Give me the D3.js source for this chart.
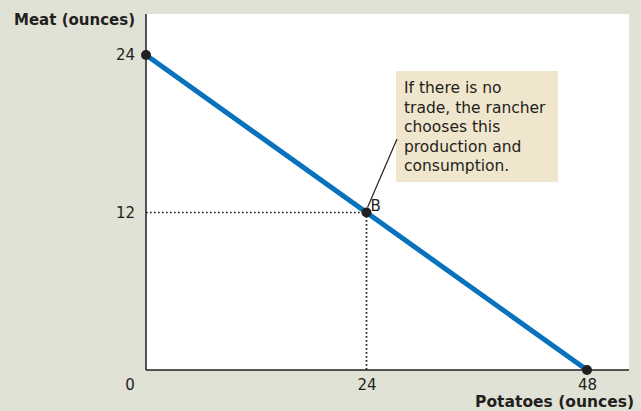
<!DOCTYPE html>
<html>
<head>
<meta charset="utf-8">
<script src="https://cdn.jsdelivr.net/npm/d3@7"></script>
<style>
  body { margin: 0; background: #dfe2d4; }
  svg { display: block; }
  text { font-family: "DejaVu Sans", Verdana, sans-serif; fill: #231f20; }
</style>
</head>
<body>
<div id="chart"></div>
<script>
// Data
const frontier = [
	{ potatoes: 0, meat: 24 },
	{ potatoes: 48, meat: 0 },
];
const pointB = { potatoes: 24, meat: 12, label: 'B' };
const xTicks = [24, 48];
const yTicks = [12, 24];
const noteLines = ['If there is no', 'trade, the rancher', 'chooses this', 'production and', 'consumption.'];

const width = 641;
const height = 411;
const font = '"DejaVu Sans", Verdana, sans-serif';

const x = d3.scaleLinear().domain([0, 48]).range([146, 587]);
const y = d3.scaleLinear().domain([0, 24]).range([370, 55]);

const svg = d3.select('#chart').append('svg').attr('width', width).attr('height', height);

// white plot area
svg.append('rect').attr('x', 146).attr('y', 14).attr('width', 483).attr('height', 356).attr('fill', '#fff');

// dotted guides to B
svg
	.append('path')
	.attr('d', `M${x(0)},${y(pointB.meat)}H${x(pointB.potatoes)}V${y(0)}`)
	.attr('fill', 'none')
	.attr('stroke', '#231f20')
	.attr('stroke-width', 1.7)
	.attr('stroke-dasharray', '1.7,2.3');

// axes
const xAxis = svg
	.append('g')
	.attr('transform', `translate(0,${y(0)})`)
	.call(d3.axisBottom(x).tickValues(xTicks).tickSize(0).tickPadding(9));
xAxis.select('.domain').attr('d', `M${x(0)},0H629`).attr('stroke', '#231f20').attr('stroke-width', 1.5);

const yAxis = svg
	.append('g')
	.attr('transform', `translate(${x(0)},0)`)
	.call(d3.axisLeft(y).tickValues(yTicks).tickSize(0).tickPadding(11));
yAxis.select('.domain').attr('d', `M0,14V${y(0)}`).attr('stroke', '#231f20').attr('stroke-width', 1.5);

svg.selectAll('.tick text').attr('font-size', 15).attr('font-family', font).attr('fill', '#231f20');

svg.append('text').attr('x', 130).attr('y', 390).attr('text-anchor', 'middle').attr('font-size', 15).text('0');

// axis titles
svg
	.append('text')
	.attr('x', 135)
	.attr('y', 25)
	.attr('text-anchor', 'end')
	.attr('font-size', 15)
	.attr('font-weight', 'bold')
	.text('Meat (ounces)');

svg
	.append('text')
	.attr('x', 634)
	.attr('y', 407)
	.attr('text-anchor', 'end')
	.attr('font-size', 15.5)
	.attr('font-weight', 'bold')
	.text('Potatoes (ounces)');

// frontier line
const line = d3
	.line()
	.x((d) => x(d.potatoes))
	.y((d) => y(d.meat));

svg.append('path').datum(frontier).attr('d', line).attr('fill', 'none').attr('stroke', '#0a72bd').attr('stroke-width', 5);

// end points and B
svg
	.selectAll('circle.pt')
	.data(frontier.concat([pointB]))
	.enter()
	.append('circle')
	.attr('class', 'pt')
	.attr('cx', (d) => x(d.potatoes))
	.attr('cy', (d) => y(d.meat))
	.attr('r', 5)
	.attr('fill', '#231f20');

svg
	.append('text')
	.attr('x', x(pointB.potatoes) + 4)
	.attr('y', y(pointB.meat) - 2)
	.attr('font-size', 15)
	.text(pointB.label);

// annotation box
svg.append('rect').attr('x', 396).attr('y', 71).attr('width', 162).attr('height', 111).attr('fill', '#f0e6cd');

svg
	.append('line')
	.attr('x1', 397)
	.attr('y1', 139)
	.attr('x2', x(pointB.potatoes) + 1)
	.attr('y2', y(pointB.meat) - 5)
	.attr('stroke', '#231f20')
	.attr('stroke-width', 1.2);

svg
	.append('text')
	.attr('font-size', 15.5)
	.selectAll('tspan')
	.data(noteLines)
	.enter()
	.append('tspan')
	.attr('x', 404)
	.attr('y', (d, i) => 93 + i * 19.5)
	.text((d) => d);
</script>
</body>
</html>
